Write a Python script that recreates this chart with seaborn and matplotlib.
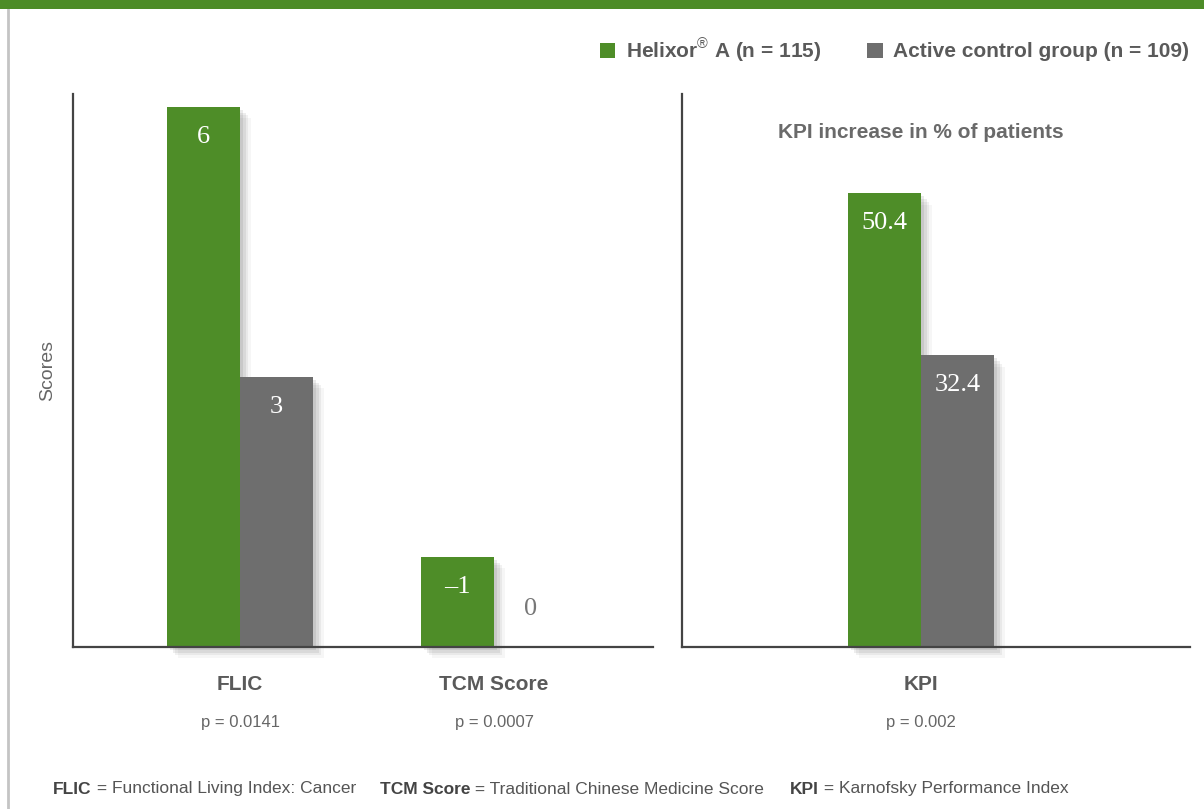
import numpy as np
import pandas as pd
import seaborn as sns
import matplotlib
matplotlib.use("Agg")
import matplotlib.pyplot as plt
from matplotlib.patches import Patch, Rectangle
from matplotlib.lines import Line2D
import matplotlib.patheffects as pe

# ---------------- data ----------------
groups = ["Helixor® A (n = 115)", "Active control group (n = 109)"]
legend_labels = ["Helixor$^{®}$ A (n = 115)", "Active control group (n = 109)"]
left_categories = ["FLIC", "TCM Score"]
helixor_scores = [6, -1]
control_scores = [3, 0]
left_pvalues = ["p = 0.0141", "p = 0.0007"]

right_categories = ["KPI"]
helixor_kpi = [50.4]
control_kpi = [32.4]
right_pvalues = ["p = 0.002"]

footer_terms = ["FLIC", "TCM Score", "KPI"]
footer_defs = [" = Functional Living Index: Cancer",
               " = Traditional Chinese Medicine Score",
               " = Karnofsky Performance Index"]

GREEN = "#4e8d28"
GRAY = "#6e6e6e"
TEXT = "#5a5a5a"

sns.set_theme(style="white")
plt.rcParams["font.family"] = ["Liberation Sans", "DejaVu Sans"]
plt.rcParams["mathtext.fontset"] = "custom"
plt.rcParams["mathtext.rm"] = "Liberation Sans"
plt.rcParams["mathtext.bf"] = "Liberation Sans:bold"

W, H = 1204, 809
fig = plt.figure(figsize=(W / 100, H / 100), dpi=100)
fig.patch.set_facecolor("white")

def px_axes(x0, y0, x1, y1):
    return fig.add_axes([x0 / W, 1 - y1 / H, (x1 - x0) / W, (y1 - y0) / H])

ax1 = px_axes(72.7, 94, 653, 647)
ax2 = px_axes(681.7, 94, 1190, 647)

left_df = pd.DataFrame({
    "category": left_categories * 2,
    "group": [groups[0]] * 2 + [groups[1]] * 2,
    "value": helixor_scores + control_scores,
})
left_df["height"] = left_df["value"].abs()
right_df = pd.DataFrame({
    "category": right_categories * 2,
    "group": [groups[0], groups[1]],
    "value": helixor_kpi + control_kpi,
})

palette = {groups[0]: GREEN, groups[1]: GRAY}
sns.barplot(data=left_df, x="category", y="height", hue="group", hue_order=groups,
            palette=palette, width=0.575, saturation=1, legend=False, linewidth=0, ax=ax1)
sns.barplot(data=right_df, x="category", y="value", hue="group", hue_order=groups,
            palette=palette, width=0.8, saturation=1, legend=False, linewidth=0, ax=ax2)

shadow = [pe.SimplePatchShadow(offset=(2, -2), shadow_rgbFace="#555555", alpha=0.12),
          pe.SimplePatchShadow(offset=(4, -4), shadow_rgbFace="#555555", alpha=0.10),
          pe.SimplePatchShadow(offset=(6, -6), shadow_rgbFace="#555555", alpha=0.08),
          pe.SimplePatchShadow(offset=(8, -8), shadow_rgbFace="#555555", alpha=0.05),
          pe.Normal()]

SERIF = ["Liberation Serif", "DejaVu Serif"]

def label_bars(ax, df):
    for patch, (_, row) in zip(ax.patches, df.iterrows()):
        h = patch.get_height()
        cx = patch.get_x() + patch.get_width() / 2
        txt = str(row["value"]).replace("-", "–")
        if h > 0:
            patch.set_path_effects(shadow)
            patch.set_clip_on(False)
            ax.annotate(txt, (cx, h), xytext=(0, -30), textcoords="offset pixels",
                        ha="center", va="center", color="white", fontsize=19, family=SERIF)
        else:
            ax.annotate(txt, (cx, 0), xytext=(0, 38), textcoords="offset pixels",
                        ha="center", va="center", color="#777777", fontsize=19, family=SERIF)

left_sorted = left_df.set_index(["group", "category"]).loc[
    [(g, c) for g in groups for c in left_categories]].reset_index()
label_bars(ax1, left_sorted)
label_bars(ax2, right_df)

ax1.set_xlim(-0.659, 1.626)
ax1.set_ylim(0, 553 / 90)
ax2.set_xlim(-1.311, 1.474)
ax2.set_ylim(0, 553 / 9)

for ax in (ax1, ax2):
    sns.despine(ax=ax, top=True, right=True)
    for s in ("left", "bottom"):
        ax.spines[s].set_color("#444444")
        ax.spines[s].set_linewidth(1.6)
        ax.spines[s].set_zorder(3)
    ax.set_xticks([])
    ax.set_yticks([])
    ax.set_xlabel("")
    ax.set_ylabel("")
    ax.set_facecolor("none")

ax1.set_ylabel("Scores", fontsize=14, color="#666666", labelpad=12)

def cat_texts(ax, cats, pvals):
    for i, (c, p) in enumerate(zip(cats, pvals)):
        ax.annotate(c, (i, 0), xytext=(0, -37), textcoords="offset pixels",
                    ha="center", va="center", fontsize=15, fontweight="bold", color=TEXT,
                    annotation_clip=False)
        ax.annotate(p, (i, 0), xytext=(0, -75), textcoords="offset pixels",
                    ha="center", va="center", fontsize=12, color="#666666",
                    annotation_clip=False)

cat_texts(ax1, left_categories, left_pvalues)
cat_texts(ax2, right_categories, right_pvalues)

ax2.text(0, 553 / 9 - 39 / 9, "KPI increase in % of patients", ha="center", va="center",
         fontsize=15, fontweight="bold", color="#6a6a6a")

# legend
handles = [Patch(facecolor=GREEN, edgecolor="none"), Patch(facecolor=GRAY, edgecolor="none")]
leg = fig.legend(handles, legend_labels, loc="center right", bbox_to_anchor=(1189 / W, 1 - 50 / H),
                 ncol=2, frameon=False, fontsize=15, handlelength=0.75, handleheight=0.75,
                 handletextpad=0.5, columnspacing=2.2, borderaxespad=0, borderpad=0)
for t in leg.get_texts():
    t.set_color(TEXT)
    t.set_fontweight("bold")

# decorations: top band + left border
fig.patches.append(Rectangle((0, 1 - 9 / H), 1, 9 / H, transform=fig.transFigure,
                             facecolor="#4d8c27", edgecolor="none", zorder=5))
fig.lines.append(Line2D([8 / W, 8 / W], [0, 1 - 9 / H], transform=fig.transFigure,
                        color="#c4c4c4", lw=2))

# footer with bold terms
fig.canvas.draw()
renderer = fig.canvas.get_renderer()
starts = [53, 380, 790]
fy = 1 - 789 / H
for x0, term, d in zip(starts, footer_terms, footer_defs):
    t1 = fig.text(x0 / W, fy, term, fontsize=12.5, fontweight="bold", color="#444444", va="center")
    bb = t1.get_window_extent(renderer)
    fig.text(bb.x1 / W, fy, d, fontsize=12.5, color="#555555", va="center")

fig.savefig("out.png", dpi=100)
